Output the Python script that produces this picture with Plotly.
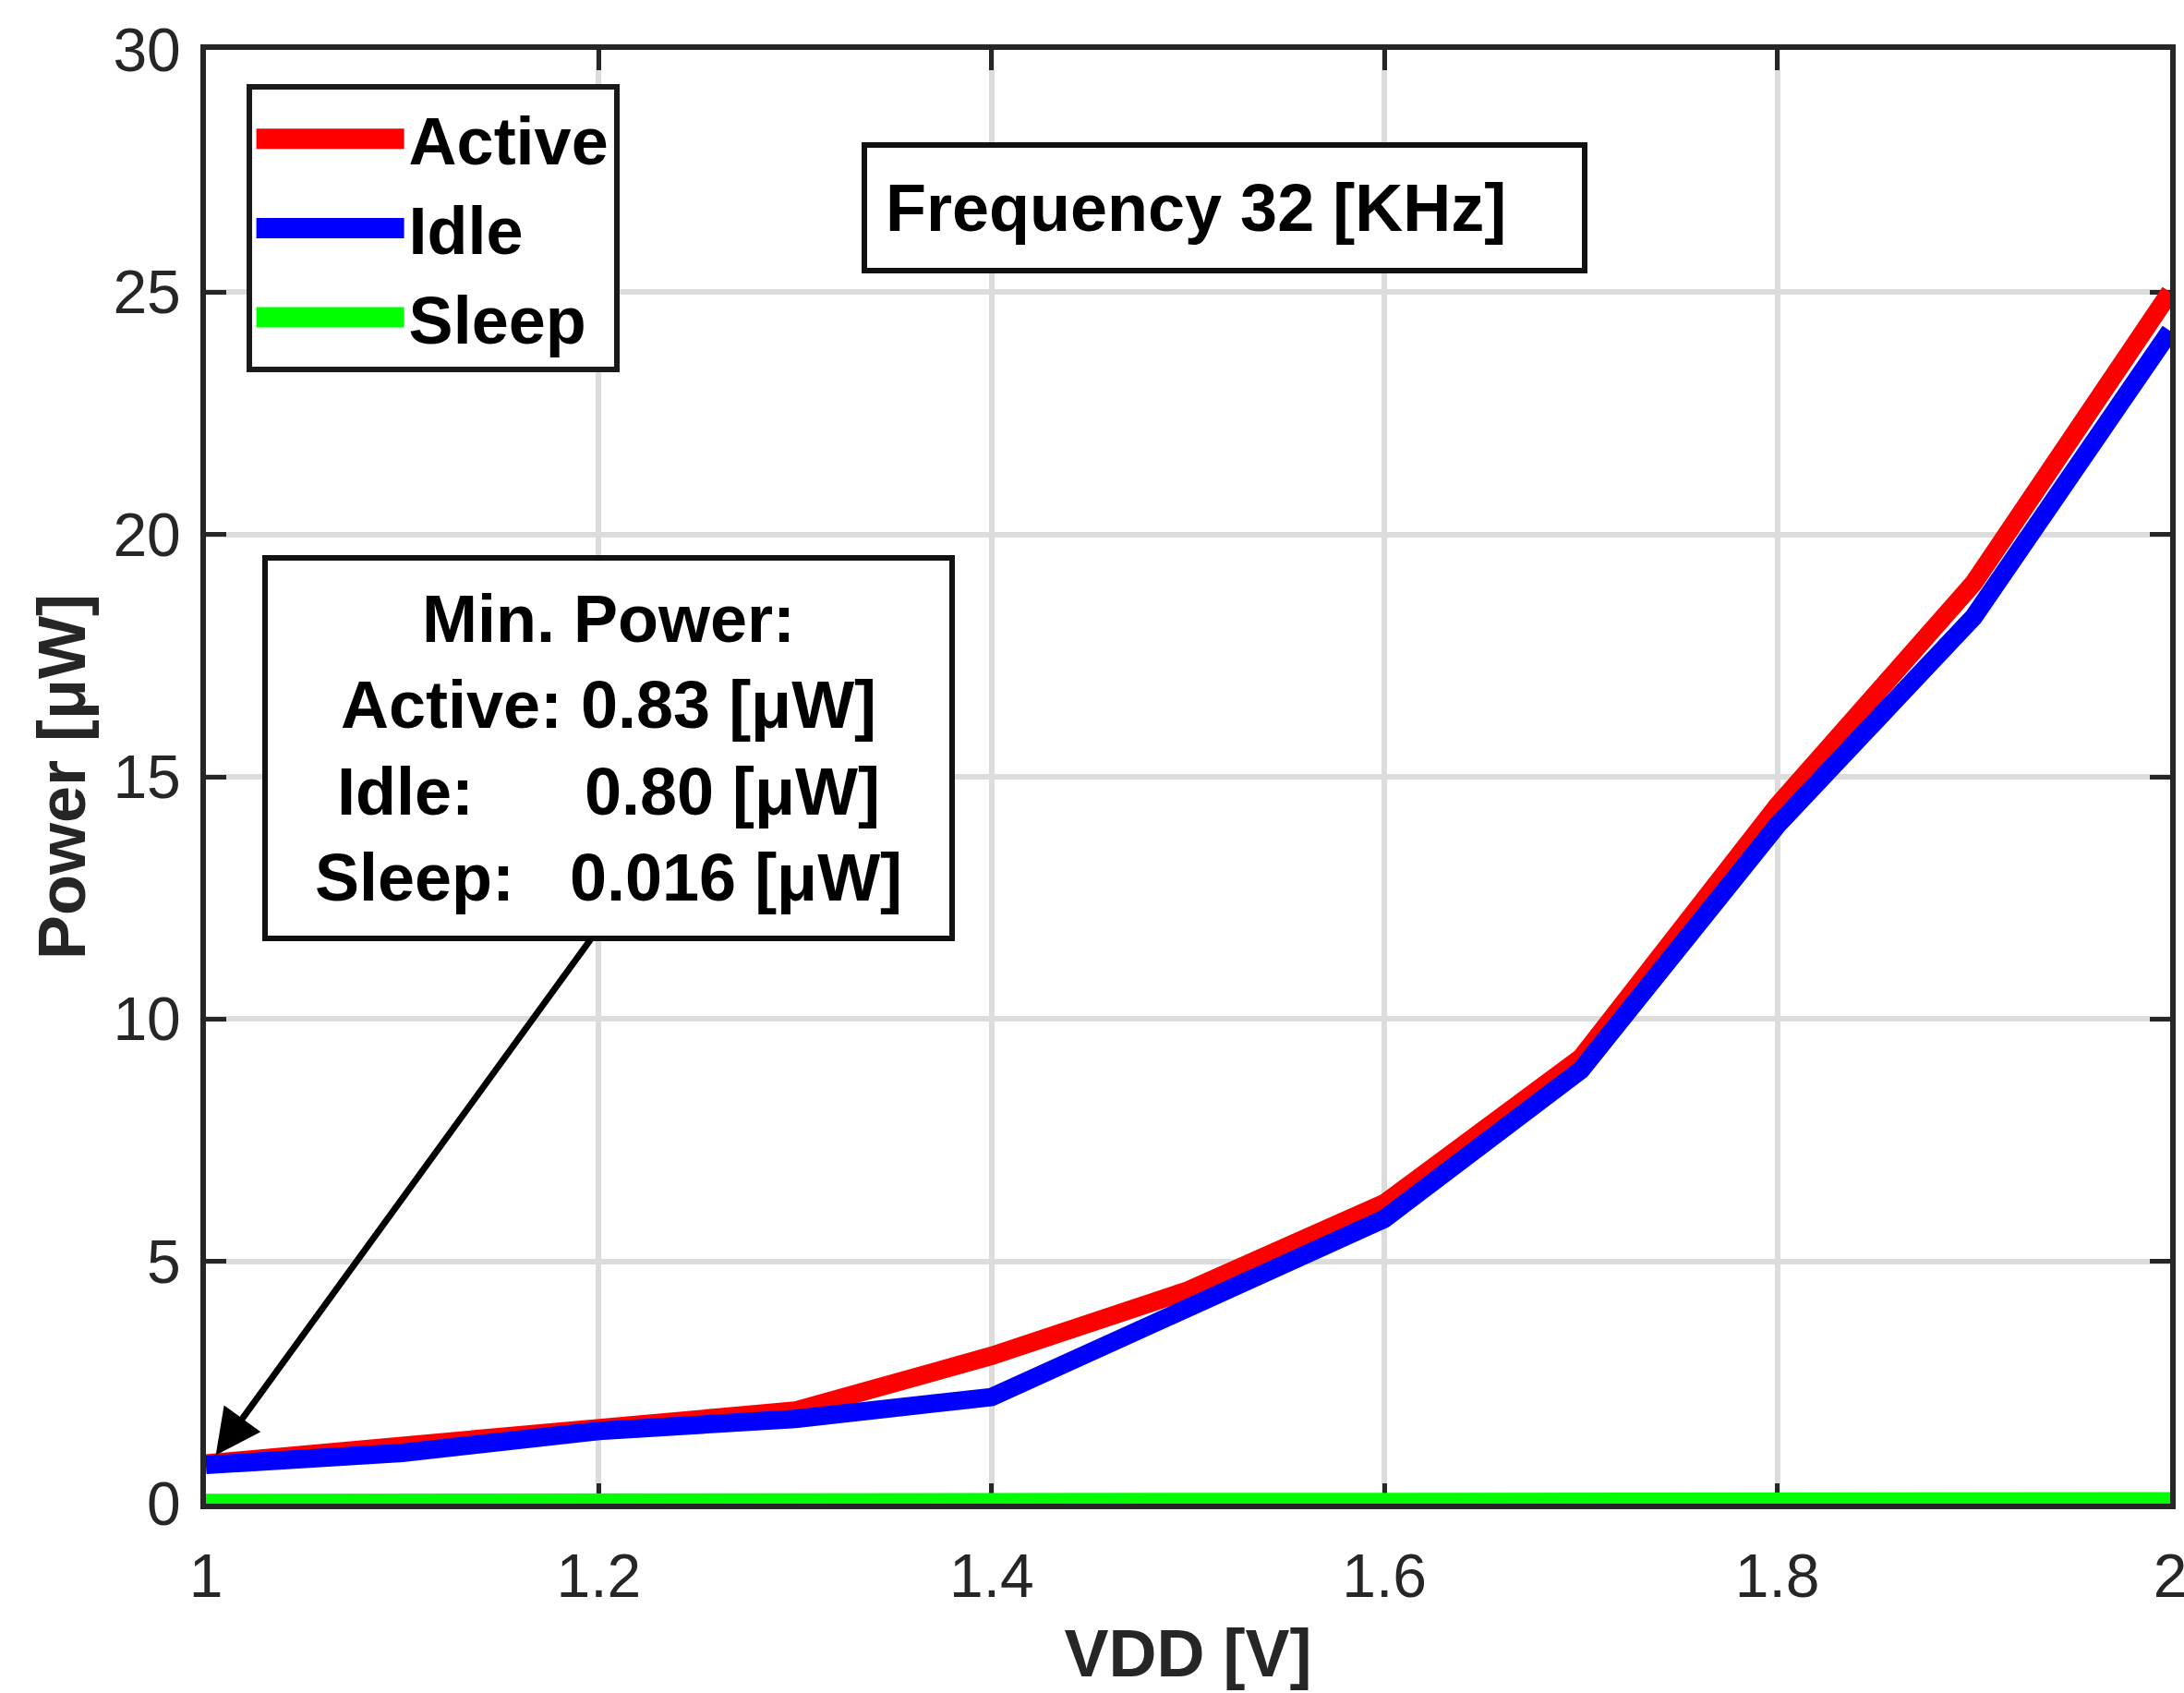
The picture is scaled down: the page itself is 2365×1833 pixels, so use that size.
import plotly.graph_objects as go

# ---- data ----
vdd = [1.0, 1.1, 1.2, 1.3, 1.4, 1.5, 1.6, 1.7, 1.8, 1.9, 2.0]
active_uw = [0.83, 1.2, 1.55, 1.92, 3.05, 4.4, 6.2, 9.2, 14.4, 19.0, 25.0]
idle_uw = [0.80, 1.05, 1.5, 1.75, 2.2, 4.08, 5.88, 8.95, 14.0, 18.3, 24.2]
sleep_uw = [0.016, 0.017, 0.018, 0.02, 0.022, 0.025, 0.028, 0.032, 0.036, 0.041, 0.047]
series_names = ["Active", "Idle", "Sleep"]
series_colors = ["#ff0000", "#0000ff", "#00ff00"]

x_ticks = [1.0, 1.2, 1.4, 1.6, 1.8, 2.0]
x_ticktext = ["1", "1.2", "1.4", "1.6", "1.8", "2"]
y_ticks = [0, 5, 10, 15, 20, 25, 30]

freq_label = "Frequency 32 [KHz]"
min_power_lines = [
    "Min. Power:",
    "Active: 0.83 [\u03bcW]",
    "Idle:" + "\u00a0" * 6 + "0.80 [\u03bcW]",
    "Sleep:" + "\u00a0" * 3 + "0.016 [\u03bcW]",
]

FONT = "Liberation Sans, Arial, Helvetica, sans-serif"
AXC = "#262626"
BOLD_SIZE = 72

fig = go.Figure()
for name, ys, col in zip(series_names, [active_uw, idle_uw, sleep_uw], series_colors):
    fig.add_trace(go.Scatter(x=vdd, y=ys, mode="lines", name=name,
                             line=dict(color=col, width=20)))

fig.update_layout(
    width=2365, height=1833,
    margin=dict(l=223, r=15, t=54, b=205, autoexpand=False),
    paper_bgcolor="white", plot_bgcolor="white",
    font=dict(family=FONT, color=AXC, size=66),
    showlegend=True,
    legend=dict(
        x=0.0205, y=0.9765, xanchor="left", yanchor="top",
        bordercolor="#1a1a1a", borderwidth=6, bgcolor="white",
        font=dict(family=FONT, size=BOLD_SIZE, color="black", weight="bold"),
        itemwidth=160, tracegroupgap=0,
    ),
)

axis_common = dict(
    showline=True, linecolor=AXC, linewidth=6, mirror="ticks",
    ticks="inside", ticklen=22, tickwidth=5, tickcolor=AXC,
    showgrid=True, gridcolor="#dcdcdc", gridwidth=6,
    zeroline=False, layer="below traces", automargin=False,
    tickfont=dict(family=FONT, size=66, color=AXC),
    ticklabeloverflow="allow",
)
fig.update_xaxes(range=[1, 2], tickvals=x_ticks, ticktext=x_ticktext,
                 title=dict(text="VDD [V]", font=dict(family=FONT, size=BOLD_SIZE, color=AXC, weight="bold"),
                            standoff=24),
                 ticklabelstandoff=16, **axis_common)
fig.update_yaxes(range=[0, 30], tickvals=y_ticks,
                 title=dict(text="Power [\u03bcW]", font=dict(family=FONT, size=BOLD_SIZE, color=AXC, weight="bold"),
                            standoff=8),
                 ticklabelstandoff=8, **axis_common)

# Frequency box
fig.add_annotation(
    x=1.5186, y=26.74, xref="x", yref="y", showarrow=False,
    text=freq_label, align="left", width=734, height=90,
    borderpad=20, borderwidth=6, bordercolor="#111111", bgcolor="white",
    font=dict(family=FONT, size=BOLD_SIZE, color="black", weight="bold"),
)

# Min. power box
fig.add_annotation(
    x=1.205, y=15.59, xref="x", yref="y", showarrow=False,
    text="<br>".join(min_power_lines), align="center", width=718, height=386,
    borderpad=10, borderwidth=6, bordercolor="#111111", bgcolor="white",
    font=dict(family=FONT, size=BOLD_SIZE, color="black", weight="bold"),
)

# Arrow from box to minimum point
fig.add_annotation(
    x=1.005, y=1.0, xref="x", yref="y",
    ax=1.1965, ay=11.68, axref="x", ayref="y",
    text="", showarrow=True, arrowhead=2, arrowsize=1.4, arrowwidth=7,
    arrowcolor="black", standoff=0,
)

post = """
document.documentElement.style.margin = '0';
document.documentElement.style.padding = '0';
document.documentElement.style.overflow = 'hidden';
document.body.style.margin = '0';
document.body.style.padding = '0';
document.body.style.overflow = 'hidden';
var gd = document.getElementById('{plot_id}');
function fixLegend(){
  gd.querySelectorAll('.legendlines path').forEach(function(p){
    p.style.strokeWidth = '22px';
  });
}
fixLegend();
setTimeout(fixLegend, 50);
setTimeout(fixLegend, 300);
if (gd.on) { gd.on('plotly_afterplot', fixLegend); }
"""

fig.write_html("out.html", post_script=post, config={"displayModeBar": False})
